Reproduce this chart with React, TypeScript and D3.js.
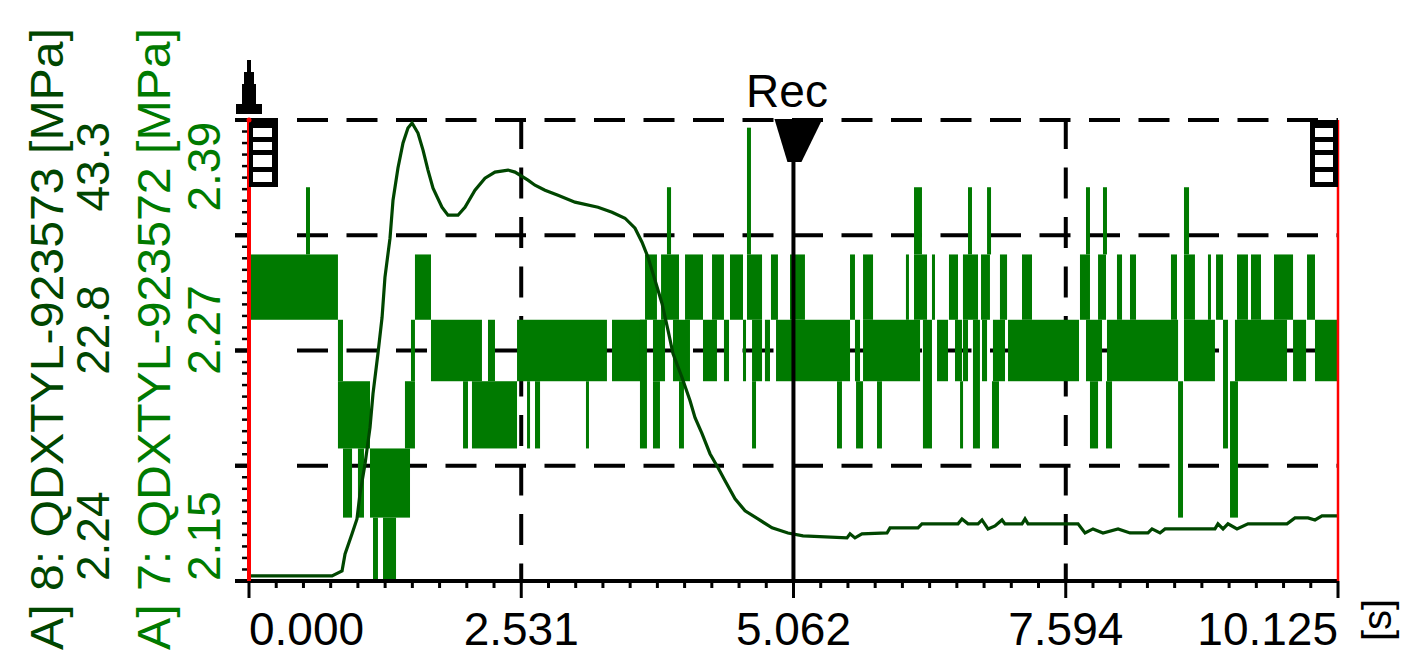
import React from 'react';
import * as d3 from 'd3';

// time axis [s]
const xTickValues = [0, 2.531, 5.062, 7.594, 10.125];
const xTickLabels = ['0.000', '2.531', '5.062', '7.594', '10.125'];

// channel 8 (dark green line) [MPa]
const ch8Range = [2.24, 43.3];
const ch8Labels = ['2.24', '22.8', '43.3'];
const ch8Time = [
  0, 0.772, 0.865, 0.893, 0.958, 1.004, 1.032, 1.079, 1.125, 1.153, 1.199, 1.237, 1.264, 1.311,
  1.339, 1.385, 1.432, 1.478, 1.516, 1.571, 1.618, 1.664, 1.711, 1.794, 1.85, 1.943, 2.008, 2.101,
  2.194, 2.287, 2.408, 2.473, 2.594, 2.659, 2.752, 2.873, 3.031, 3.245, 3.375, 3.496, 3.589, 3.654,
  3.71, 3.775, 3.84, 3.896, 3.942, 4.026, 4.1, 4.147, 4.212, 4.286, 4.361, 4.426, 4.519, 4.612,
  4.732, 4.863, 5.011, 5.151, 5.56, 5.588, 5.634, 5.699, 5.932, 5.96, 6.22, 6.257, 6.592, 6.629,
  6.685, 6.778, 6.815, 6.871, 6.936, 7.001, 7.029, 7.187, 7.215, 7.243, 7.708, 7.773, 7.847, 7.94,
  8.08, 8.191, 8.358, 8.396, 8.47, 8.517, 8.981, 9.009, 9.056, 9.102, 9.186, 9.288, 9.651, 9.725,
  9.846, 9.911, 9.976, 10.125,
];
const ch8Value = [
  2.69, 2.69, 3.13, 4.65, 6.44, 7.77, 10.01, 12.68, 15.9, 18.93, 22.5, 25.71, 29.29, 32.77,
  36.16, 39.02, 41.25, 42.59, 43.03, 42.14, 40.62, 38.84, 37.23, 35.53, 34.82, 34.82, 35.53, 37.05,
  38.12, 38.66, 38.84, 38.66, 37.94, 37.49, 37.05, 36.6, 35.98, 35.53, 35.09, 34.55, 33.66, 32.41,
  31.07, 29.02, 26.96, 24.56, 22.5, 20.36, 18.31, 16.79, 15.36, 13.58, 12.33, 11.17, 9.56, 8.49,
  7.77, 6.97, 6.52, 6.26, 6.08, 6.44, 6.08, 6.44, 6.52, 6.97, 6.97, 7.33, 7.33, 7.77,
  7.33, 7.33, 7.68, 6.88, 7.15, 7.68, 7.33, 7.33, 7.77, 7.33, 7.33, 6.52, 6.88, 6.52,
  6.88, 6.52, 6.52, 6.88, 6.52, 6.88, 6.88, 7.33, 6.88, 7.33, 6.88, 7.33, 7.33, 7.86,
  7.86, 7.68, 8.04, 8.04,
];

// channel 7 (green, quantised) [MPa]
const ch7Range = [2.15, 2.39];
const ch7Labels = ['2.15', '2.27', '2.39'];
const ch7Levels = [2.15, 2.183, 2.219, 2.254, 2.286, 2.32, 2.355, 2.386];
// min/max envelope: [t start, t end, low level, high level]
const ch7Blocks = [
  [0, 0.827, 4, 5], [0.53, 0.567, 5, 6], [0.827, 0.874, 3, 4], [0.827, 1.125, 2, 3],
  [0.874, 0.958, 1, 2], [1.013, 1.069, 1, 2], [1.125, 1.497, 1, 2], [1.153, 1.199, 0, 1],
  [1.246, 1.367, 0, 1], [1.45, 1.543, 2, 3], [1.506, 1.543, 3, 4], [1.543, 1.692, 4, 5],
  [1.692, 2.166, 3, 4], [1.99, 2.036, 2, 3], [2.073, 2.492, 2, 3], [2.222, 2.287, 3, 4],
  [2.492, 3.328, 3, 4], [2.585, 2.613, 2, 3], [2.659, 2.706, 2, 3], [3.133, 3.152, 2, 3],
  [3.375, 3.682, 3, 4], [3.635, 3.7, 2, 4], [3.682, 3.793, 4, 5], [3.756, 3.868, 3, 4],
  [3.756, 3.821, 2, 3], [3.831, 3.998, 4, 5], [3.886, 3.924, 5, 6], [3.942, 4.1, 3, 4],
  [3.998, 4.044, 2, 3], [4.054, 4.221, 4, 5], [4.221, 4.351, 3, 4], [4.305, 4.416, 4, 5],
  [4.416, 4.463, 3, 4], [4.472, 4.593, 4, 5], [4.593, 4.621, 3, 4], [4.63, 4.77, 4, 5],
  [4.63, 4.667, 5, 7], [4.677, 4.77, 3, 4], [4.677, 4.714, 2, 3], [4.797, 4.844, 3, 4],
  [4.853, 4.918, 4, 5], [4.9, 5.588, 3, 4], [5.03, 5.169, 4, 5], [5.467, 5.513, 2, 3],
  [5.588, 5.634, 4, 5], [5.634, 5.681, 3, 4], [5.644, 5.709, 2, 3], [5.709, 6.239, 3, 4],
  [5.709, 5.802, 4, 5], [5.839, 5.885, 2, 3], [6.108, 6.127, 4, 5], [6.183, 6.304, 4, 5],
  [6.183, 6.257, 5, 6], [6.266, 6.35, 2, 4], [6.35, 6.378, 4, 5], [6.397, 6.499, 3, 4],
  [6.508, 6.592, 4, 5], [6.564, 6.629, 3, 4], [6.611, 6.629, 2, 3], [6.638, 6.685, 3, 4],
  [6.638, 6.778, 4, 5], [6.685, 6.722, 5, 6], [6.731, 6.796, 2, 4], [6.806, 6.889, 4, 5],
  [6.815, 6.862, 3, 4], [6.862, 6.899, 5, 6], [6.908, 6.973, 2, 3], [6.917, 7.029, 3, 4],
  [6.982, 7.048, 4, 5], [7.057, 7.717, 3, 4], [7.187, 7.28, 4, 5], [7.726, 7.819, 4, 5],
  [7.782, 7.819, 5, 6], [7.782, 7.931, 3, 4], [7.819, 7.894, 2, 3], [7.894, 7.968, 4, 5],
  [7.94, 7.977, 5, 6], [7.968, 8.024, 2, 3], [7.977, 8.638, 3, 4], [8.07, 8.117, 4, 5],
  [8.191, 8.247, 4, 5], [8.572, 8.628, 4, 5], [8.638, 8.684, 1, 3], [8.693, 8.981, 3, 4],
  [8.693, 8.795, 4, 5], [8.693, 8.74, 5, 6], [8.916, 8.944, 4, 5], [8.991, 9.056, 4, 5],
  [9.056, 9.102, 2, 4], [9.121, 9.195, 1, 3], [9.167, 9.651, 3, 4], [9.186, 9.288, 4, 5],
  [9.316, 9.409, 4, 5], [9.53, 9.707, 4, 5], [9.707, 9.828, 3, 4], [9.837, 9.911, 4, 5],
  [9.911, 10.125, 3, 4],
];

const recTime = 5.062;
const ch8Name = 'A] 8: QDXTYL-923573 [MPa]';
const ch7Name = 'A] 7: QDXTYL-923572 [MPa]';

const W = 1404;
const H = 654;
const left = 249;
const right = 1338;
const top = 120;
const bottom = 581;
const font = '"Liberation Sans", Arial, sans-serif';
const c8 = '#004600';
const c7 = '#007a00';

const App = () => {
  const x = d3.scaleLinear().domain([0, 10.125]).range([left, right]);
  const y8 = d3.scaleLinear().domain(ch8Range).range([bottom, top]);
  const y7 = d3.scaleLinear().domain(ch7Range).range([bottom, top]);

  const line8 = d3.line<number>()
    .x((d, i) => x(ch8Time[i]))
    .y(d => y8(d));

  const yGrid = d3.range(5).map(i => y7(ch7Range[0] + (i * (ch7Range[1] - ch7Range[0])) / 4));
  const minorY = d3.range(41).map(i => top + (i * (bottom - top)) / 40);
  const minorX = d3.range(41).map(i => x((i * 10.125) / 40));
  const xr = x(recTime);

  const boxCells = [[128, 137], [142, 150], [155, 167], [172, 182]];

  return (
    <svg width={W} height={H} style={{ position: 'absolute', left: 0, top: 0, background: '#fff' }}
      fontFamily={font}>
      {/* dashed grid */}
      {yGrid.slice(1).map((gy, i) => (
        <g key={`hg${i}`}>
          <line x1={297} x2={right} y1={gy} y2={gy} stroke="#000" strokeWidth={4} strokeDasharray="31 18.5" />
          <line x1={235} x2={250} y1={gy} y2={gy} stroke="#000" strokeWidth={4} />
        </g>
      ))}
      {[xTickValues[1], xTickValues[3]].map((t, i) => (
        <line key={`vg${i}`} x1={x(t)} x2={x(t)} y1={118} y2={bottom} stroke="#000" strokeWidth={4}
          strokeDasharray="31 18.5" />
      ))}

      {/* channel 7 envelope */}
      {ch7Blocks.map(([t0, t1, lo, hi], i) => {
        const x0 = x(t0);
        const w = Math.max(x(t1) - x0, 3);
        const yt = y7(ch7Levels[hi]);
        return <rect key={`b${i}`} x={x0} y={yt} width={w} height={y7(ch7Levels[lo]) - yt} fill={c7} />;
      })}

      {/* channel 8 line */}
      <path d={line8(ch8Value) || ''} fill="none" stroke={c8} strokeWidth={3.2} />

      {/* axes */}
      <line x1={235} x2={right} y1={bottom} y2={bottom} stroke="#000" strokeWidth={4} />
      {minorX.map((mx, i) => (
        <line key={`mx${i}`} x1={mx} x2={mx} y1={bottom} y2={i % 10 === 0 ? 598 : 588}
          stroke="#000" strokeWidth={3} />
      ))}
      {minorY.map((my, i) => (
        <line key={`my${i}`} x1={i % 10 === 0 ? 235 : 242} x2={249} y1={my} y2={my}
          stroke="#000" strokeWidth={i % 10 === 0 ? 4 : 2.5} />
      ))}
      <line x1={left} x2={left} y1={top} y2={bottom} stroke="#ff0000" strokeWidth={4} />
      <line x1={right} x2={right} y1={top} y2={bottom} stroke="#ff0000" strokeWidth={2.5} />

      {/* corner boxes */}
      <rect x={left} y={118} width={29} height={69} fill="#000" />
      {boxCells.map(([a, b], i) => (
        <rect key={`lc${i}`} x={253} y={a} width={19} height={b - a} fill="#fff" />
      ))}
      <rect x={1310} y={120} width={28} height={67} fill="#000" />
      {boxCells.map(([a, b], i) => (
        <rect key={`rc${i}`} x={1315} y={a} width={18} height={b - a} fill="#fff" />
      ))}

      {/* up arrow marker */}
      <polygon
        points={`247,60 251,60 251,72 254,72 254,84 256,84 256,104 262,104 262,114 236,114 236,104 242,104 242,84 244,84 244,72 247,72`}
        fill="#000" />
      <circle cx={left} cy={top} r={2.5} fill="#ff0000" />

      {/* Rec cursor */}
      <line x1={xr} x2={xr} y1={150} y2={bottom} stroke="#000" strokeWidth={4} />
      <polygon points={`${xr - 19},119 ${xr + 29},119 ${xr + 8},162 ${xr - 6},162`} fill="#000" />
      <text x={787} y={107} fontSize={46} textAnchor="middle" fill="#000">Rec</text>

      {/* x tick labels */}
      {xTickValues.map((t, i) => (
        <text key={`xl${i}`} x={x(t)} y={645} fontSize={46} fill="#000"
          textAnchor={i === 0 ? 'start' : i === xTickValues.length - 1 ? 'end' : 'middle'}>
          {xTickLabels[i]}
        </text>
      ))}
      <text transform={`translate(1391,641) rotate(-90)`} fontSize={40} fill="#000">[s]</text>

      {/* y labels */}
      <text transform={`translate(63,650) rotate(-90)`} fontSize={46} fill={c8}
        textLength={622} lengthAdjust="spacingAndGlyphs">{ch8Name}</text>
      <text transform={`translate(170,650) rotate(-90)`} fontSize={46} fill={c7}
        textLength={622} lengthAdjust="spacingAndGlyphs">{ch7Name}</text>
      {[ch8Labels, ch7Labels].map((labels, k) => {
        const bx = k === 0 ? 109 : 220;
        const col = k === 0 ? c8 : c7;
        return (
          <g key={`yl${k}`} fill={col} fontSize={46}>
            <text transform={`translate(${bx},${bottom}) rotate(-90)`} textAnchor="start">{labels[0]}</text>
            <text transform={`translate(${bx},330) rotate(-90)`} textAnchor="middle">{labels[1]}</text>
            <text transform={`translate(${bx},${top + 2}) rotate(-90)`} textAnchor="end">{labels[2]}</text>
          </g>
        );
      })}
    </svg>
  );
};

export default App;
